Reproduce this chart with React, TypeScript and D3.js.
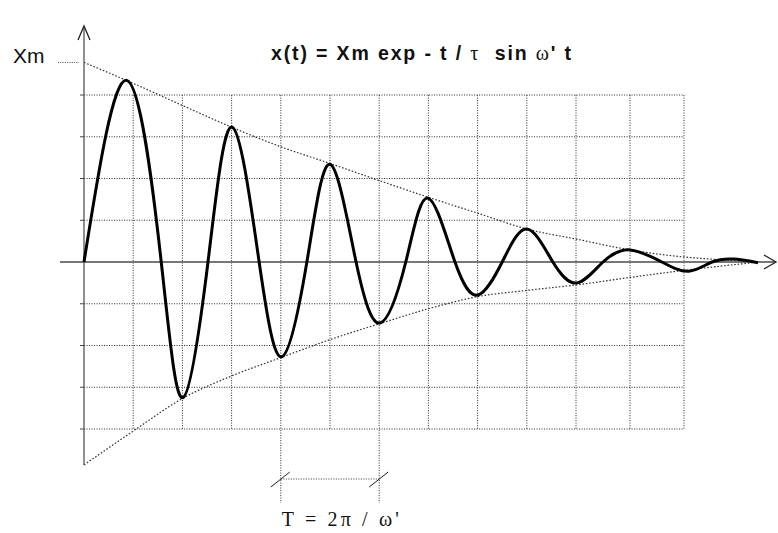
import React from "react";
import * as d3 from "d3";

// grid (in grid units)
const gridCols = [1, 2, 3, 4, 5, 6, 7, 8, 9, 10, 11, 12];
const gridRows = [-4, -3, -2, -1, 1, 2, 3, 4];

// damped oscillation: extrema and zero crossings
const curveT = [0, 0.87, 1.57, 2.01, 2.52, 3.01, 3.56, 4.02, 4.53, 5.0, 5.53, 6.02, 6.54, 6.99, 7.54, 8.01, 8.5, 9.0, 9.53, 10.02, 10.5, 11.0, 11.59, 12.09, 12.52, 12.94, 13.37];
const curveX = [0, 4.35, 0, -3.25, 0, 3.23, 0, -2.27, 0, 2.34, 0, -1.46, 0, 1.53, 0, -0.79, 0, 0.79, 0, -0.5, 0, 0.29, 0, -0.22, 0, 0.07, -0.02];

// envelopes
const upperT = [0, 1, 2, 3, 4, 5, 6, 7, 8, 9, 10, 11, 12, 12.5, 13.4];
const upperX = [4.78, 4.28, 3.75, 3.23, 2.76, 2.36, 1.95, 1.55, 1.17, 0.79, 0.55, 0.29, 0.12, 0.07, 0];
const lowerT = [0, 1, 2, 3, 4, 5, 6, 7, 8, 9, 10, 11, 12, 13.4];
const lowerX = [-4.86, -4.05, -3.27, -2.73, -2.29, -1.86, -1.48, -1.12, -0.83, -0.68, -0.55, -0.37, -0.2, 0];

const xmValue = 4.78;
const periodStart = 4;
const periodEnd = 6;

const W = 778;
const H = 533;

export default function App() {
  const xs = d3.scaleLinear().domain([0, 10, 12]).range([84, 576, 684]);
  const ys = d3.scaleLinear().domain([-4, 4]).range([429, 95]);

  const envLine = d3
    .line<[number, number]>()
    .x((d) => xs(d[0]))
    .y((d) => ys(d[1]))
    .curve(d3.curveMonotoneX);

  const waveLine = d3
    .line<[number, number]>()
    .x((d) => xs(d[0]))
    .y((d) => ys(d[1]))
    .curve(d3.curveNatural);

  const curvePts = curveT.map((t, i) => [t, curveX[i]] as [number, number]);
  const upperPts = upperT.map((t, i) => [t, upperX[i]] as [number, number]);
  const lowerPts = lowerT.map((t, i) => [t, lowerX[i]] as [number, number]);

  const x0 = xs(0);
  const xEnd = xs(12);
  const y0 = ys(0);
  const gridStroke = "#3a3a3a";
  const dash = "1.1 1.4";

  const pS = xs(periodStart);
  const pE = xs(periodEnd);
  const annY = 479;

  return (
    <svg
      width={W}
      height={H}
      style={{ position: "fixed", left: 0, top: 0, background: "#fff" }}
      xmlns="http://www.w3.org/2000/svg"
    >
      <rect x={0} y={0} width={W} height={H} fill="#fff" />
      {/* horizontal grid */}
      {gridRows.map((r) => (
        <line key={"r" + r} x1={x0} x2={xEnd} y1={ys(r)} y2={ys(r)} stroke={gridStroke} strokeWidth={1} strokeDasharray={dash} />
      ))}
      {/* vertical grid */}
      {gridCols.map((c) => (
        <line
          key={"c" + c}
          x1={xs(c)}
          x2={xs(c)}
          y1={ys(4)}
          y2={c === periodStart || c === periodEnd ? 503 : ys(-4)}
          stroke={gridStroke}
          strokeWidth={1}
          strokeDasharray={dash}
        />
      ))}
      {/* y ticks */}
      {gridRows.map((r) => (
        <line key={"t" + r} x1={x0 - 4} x2={x0} y1={ys(r)} y2={ys(r)} stroke="#444" strokeWidth={1} />
      ))}
      {/* envelopes */}
      <path d={envLine(upperPts) || ""} fill="none" stroke="#333" strokeWidth={1.2} strokeDasharray="1.6 1.8" />
      <path d={envLine(lowerPts) || ""} fill="none" stroke="#333" strokeWidth={1.2} strokeDasharray="1.6 1.8" />
      {/* x axis */}
      <line x1={60} x2={775} y1={y0} y2={y0} stroke="#777" strokeWidth={1.8} />
      <path d={`M ${764} ${y0 - 7} L ${776} ${y0} L ${764} ${y0 + 7}`} fill="none" stroke="#222" strokeWidth={1.3} />
      {/* y axis */}
      <line x1={x0} x2={x0} y1={27} y2={ys(lowerX[0])} stroke="#555" strokeWidth={1.3} />
      <path d={`M ${x0 - 6} ${40} L ${x0} ${26} L ${x0 + 6} ${40}`} fill="none" stroke="#222" strokeWidth={1.3} />
      {/* Xm label */}
      <text x={13} y={ys(xmValue) + 1} fontFamily="Liberation Sans, Arial, sans-serif" fontSize={21} fill="#111">
        Xm
      </text>
      <line x1={58} x2={79} y1={ys(xmValue)} y2={ys(xmValue)} stroke="#444" strokeWidth={1} strokeDasharray="1 1.3" />
      {/* title */}
      <text
        x={271}
        y={60}
        textLength={300}
        lengthAdjust="spacing"
        fontFamily="Liberation Sans, Arial, sans-serif"
        fontSize={19.5}
        fontWeight="bold"
        fill="#111"
        style={{ whiteSpace: "pre" }}
      >
        {"x(t) = Xm exp - t / "}
        <tspan fontFamily="Liberation Serif, serif" fontWeight="normal" fontSize={20}>τ</tspan>
        {"  sin "}
        <tspan fontFamily="Liberation Serif, serif" fontWeight="normal" fontSize={20}>ω</tspan>
        {"' t"}
      </text>
      {/* oscillation */}
      <path d={waveLine(curvePts) || ""} fill="none" stroke="#000" strokeWidth={3} strokeLinejoin="round" />
      {/* period annotation */}
      <line x1={pS} x2={pE} y1={annY} y2={annY} stroke="#444" strokeWidth={1} strokeDasharray={dash} />
      <line x1={pS - 10} x2={pS + 9} y1={annY + 8} y2={annY - 7} stroke="#222" strokeWidth={1} />
      <line x1={pE - 10} x2={pE + 9} y1={annY + 8} y2={annY - 7} stroke="#222" strokeWidth={1} />
      <text
        x={pS + 1}
        y={526}
        textLength={117}
        lengthAdjust="spacing"
        fontFamily="Liberation Serif, Times New Roman, serif"
        fontSize={20}
        fill="#111"
      >
        T = 2π / ω'
      </text>
    </svg>
  );
}
